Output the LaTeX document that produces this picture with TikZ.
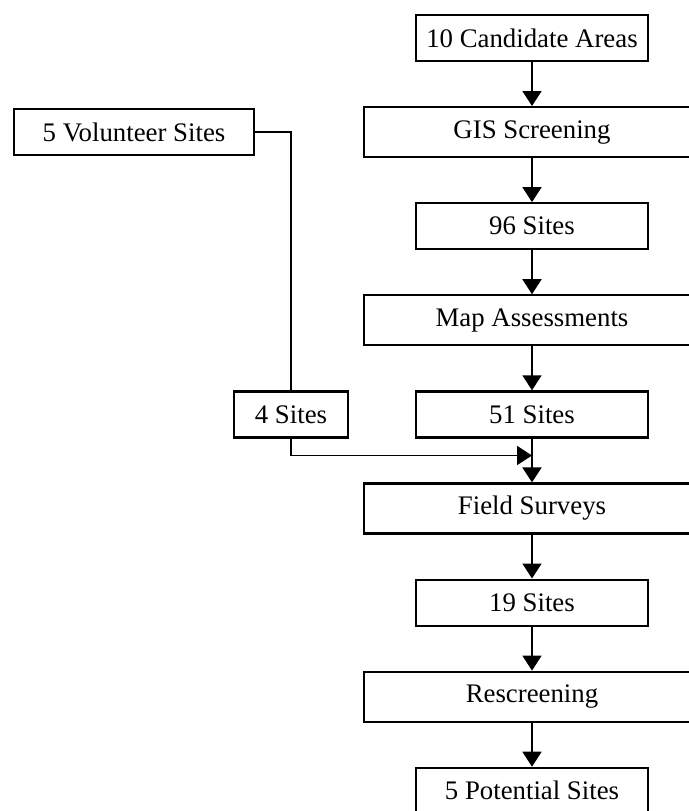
\documentclass[tikz,border=0pt]{standalone}
\usepackage{fontspec}
\setmainfont{Liberation Serif}
\usetikzlibrary{positioning, arrows.meta}

\begin{document}
\begin{tikzpicture}[x=0.5pt, y=-0.5pt, node distance = 47.05pt, on grid,
		font=\fontsize{13.4}{16}\selectfont,
		box/.style={draw, line width=1.1pt, minimum width=116pt, minimum height=23pt, inner sep=0pt},
		wide/.style={box, minimum width=168pt, minimum height=25pt},
		conn/.style={line width=0.9pt, -{Triangle[length=7.5pt, width=9.5pt]}}]
			\useasboundingbox (0,0) rectangle (689,811);
			\clip (0,0) rectangle (689,811);

			\node[box] (cand) at (532,38) {10 Candidate Areas};
			\node[wide, below=of cand] (gis) {GIS Screening};
			\node[box, below=of gis] (s96) {96 Sites};
			\node[wide, below=of s96] (map) {Map Assessments};
			\node[box, below=of map] (s51) {51 Sites};
			\node[wide, below=of s51] (field) {Field Surveys};
			\node[box, below=of field] (s19) {19 Sites};
			\node[wide, below=of s19] (resc) {Rescreening};
			\node[box, below=of resc] (pot) {5 Potential Sites};
			\node[box, minimum width=120pt, left=199pt of gis] (vol) {5 Volunteer Sites};
			\node[box, minimum width=57pt, left=120.5pt of s51] (s4) {4 Sites};
			\coordinate[below=8.5pt of s51.south] (join);

			\draw[conn] (cand) edge (gis)
			(gis) edge (s96)
			(s96) edge (map)
			(map) edge (s51)
			(s51) edge (field)
			(field) edge (s19)
			(s19) edge (resc)
			(resc) edge (pot);

			\draw[line width=0.9pt] (vol.east) -| (s4.north);
			\draw[conn] (s4.south) |- (join);

		\end{tikzpicture}
\end{document}
